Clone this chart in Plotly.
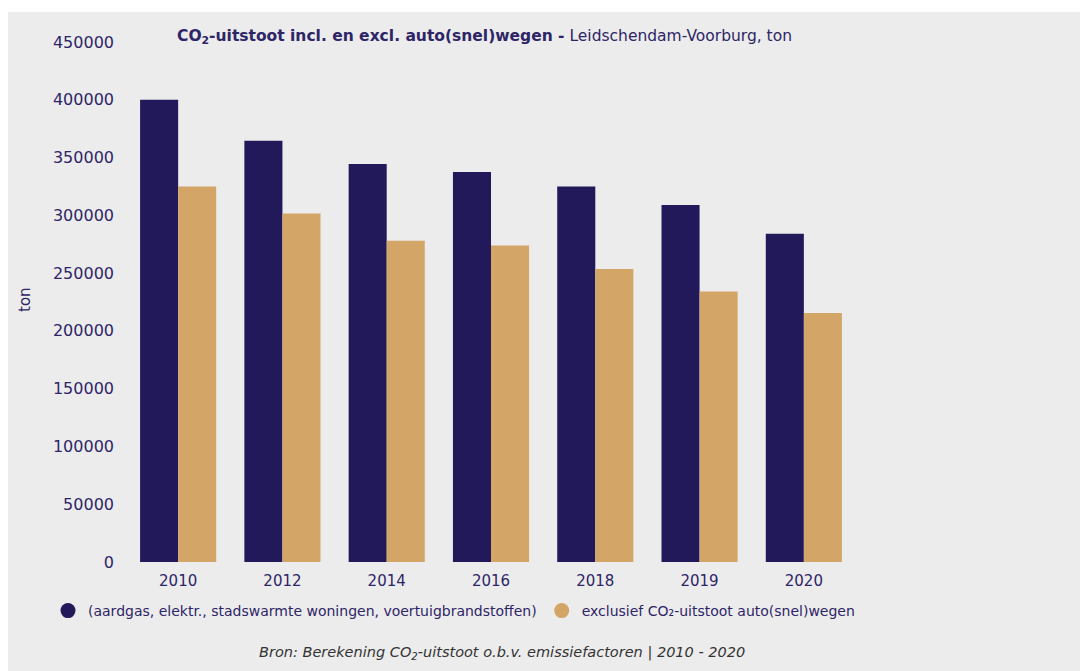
import plotly.graph_objects as go

years = ["2010", "2012", "2014", "2016", "2018", "2019", "2020"]
incl_values = [400000, 364500, 344500, 337500, 325000, 309000, 284000]
excl_values = [325000, 301500, 278000, 274000, 253500, 234000, 215500]
y_ticks = [0, 50000, 100000, 150000, 200000, 250000, 300000, 350000, 400000, 450000]

name_incl = "(aardgas, elektr., stadswarmte woningen, voertuigbrandstoffen)"
name_excl = "exclusief CO₂-uitstoot auto(snel)wegen"

C_INCL = "#22195b"
C_EXCL = "#d3a667"
TXT = "#2e2567"
BG = "#ececec"

W, H = 1088, 671
OFF = 8  # page body margin
L, R, T, B = 126 - OFF, W - (856 - OFF), 42 - OFF, H - (562 - OFF)
pw, ph = W - L - R, H - T - B

def px(x):  # screen x -> paper
    return (x - OFF - L) / pw

def py(y):  # screen y -> paper
    return (H - B - (y - OFF)) / ph

fig = go.Figure()
fig.add_trace(go.Bar(x=years, y=incl_values, name=name_incl, marker_color=C_INCL,
                     marker_line_width=0, showlegend=False))
fig.add_trace(go.Bar(x=years, y=excl_values, name=name_excl, marker_color=C_EXCL,
                     marker_line_width=0, showlegend=False))
fig.add_trace(go.Scatter(x=[None], y=[None], mode="markers", name=name_incl,
                         marker=dict(symbol="circle", size=15, color=C_INCL)))
fig.add_trace(go.Scatter(x=[None], y=[None], mode="markers", name=name_excl,
                         marker=dict(symbol="circle", size=15, color=C_EXCL)))

font = "DejaVu Sans"
fig.update_layout(
    width=W, height=H,
    margin=dict(l=L, r=R, t=T, b=B, pad=0),
    paper_bgcolor=BG,
    plot_bgcolor=BG,
    barmode="group",
    bargap=0.27,
    bargroupgap=0.0,
    font=dict(family=font, color=TXT, size=15),
    xaxis=dict(type="category", range=[-0.5, 6.5], showgrid=False, zeroline=False,
               showline=False, ticks="", tickfont=dict(size=15, color=TXT),
               ticklabelstandoff=8),
    yaxis=dict(range=[0, 450000], tickvals=y_ticks, ticktext=[str(v) for v in y_ticks],
               showgrid=False, zeroline=False, showline=False, ticks="",
               tickfont=dict(size=16, color=TXT), ticklabelstandoff=11),
    legend=dict(orientation="h", x=px(48), xanchor="left", y=py(611), yanchor="middle",
                bgcolor="rgba(0,0,0,0)", font=dict(size=14, color=TXT),
                itemwidth=30, tracegroupgap=0),
    shapes=[dict(type="rect", xref="paper", yref="paper", layer="below",
                 x0=px(0), x1=px(W + 20), y0=py(12), y1=py(0),
                 fillcolor="white", line_width=0)],
    annotations=[
        dict(text="<b>CO<sub>2</sub>-uitstoot incl. en excl. auto(snel)wegen -</b> Leidschendam-Voorburg, ton",
             xref="paper", yref="paper", x=px(175), y=py(37), xanchor="left", yanchor="middle",
             showarrow=False, font=dict(size=15.5, color=TXT)),
        dict(text="ton", xref="paper", yref="paper", x=px(25), y=py(300), textangle=-90,
             xanchor="center", yanchor="middle", showarrow=False,
             font=dict(size=15, color=TXT)),
        dict(text="<i>Bron: Berekening CO<sub>2</sub>-uitstoot o.b.v. emissiefactoren | 2010 - 2020</i>",
             xref="paper", yref="paper", x=px(502), y=py(653), xanchor="center", yanchor="middle",
             showarrow=False, font=dict(size=14.5, color="#333333")),
    ],
)

fig.write_html("out.html")
